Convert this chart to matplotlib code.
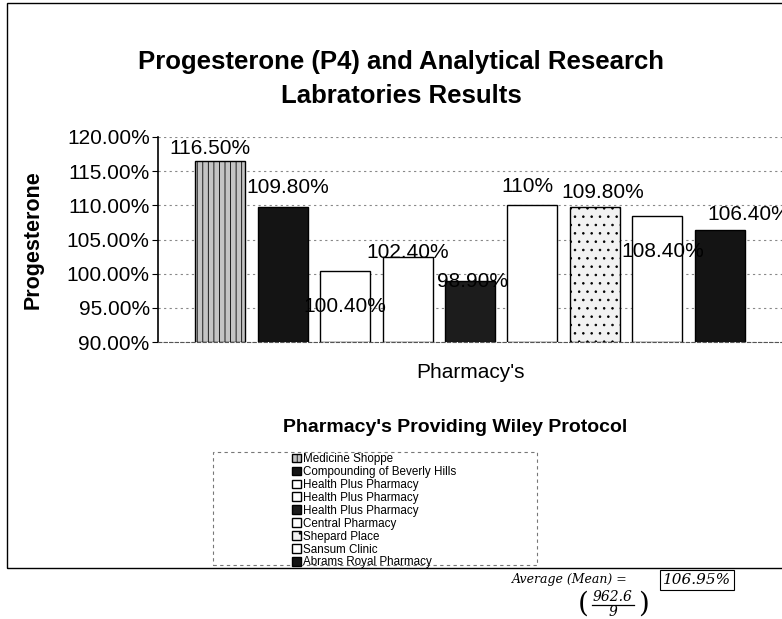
import matplotlib
matplotlib.use('Agg')
import matplotlib.pyplot as plt
from matplotlib.patches import Rectangle
from matplotlib.ticker import FuncFormatter

# Werte aus dem Diagramm
pharmacies = ['Medicine Shoppe', 'Compounding of Beverly Hills', 'Health Plus Pharmacy',
              'Health Plus Pharmacy', 'Health Plus Pharmacy', 'Central Pharmacy',
              'Shepard Place', 'Sansum Clinic', 'Abrams Royal Pharmacy']
results = [116.5, 109.8, 100.4, 102.4, 98.9, 110.0, 109.8, 108.4, 106.4]
value_labels = ['116.50%', '109.80%', '100.40%', '102.40%', '98.90%',
                '110%', '109.80%', '108.40%', '106.40%']
y_ticks = [90, 95, 100, 105, 110, 115, 120]

fills = ['#c4c4c4', '#141414', 'white', 'white', '#1c1c1c', 'white', '#f2f2f2', 'white', '#141414']
hatches = ['|||', None, None, None, None, None, '..', None, None]
# Versatz der Beschriftungen (px) relativ zur Balkenoberkante
offsets = [(-10, 12), (5, 19), (0, -36), (0, 5), (3, 0), (-5, 19), (8, 14), (6, -35), (29, 15)]

plt.rcParams['font.family'] = ['Liberation Sans', 'DejaVu Sans']
plt.rcParams['hatch.color'] = '#666666'
plt.rcParams['hatch.linewidth'] = 0.6

W, H = 782, 619
fig = plt.figure(figsize=(W / 100, H / 100), dpi=100)
fig.patch.set_facecolor('white')

def fx(px):
    return px / W

def fy(py):
    return 1 - py / H

# äußerer Rahmen
fig.patches.append(Rectangle((fx(7), fy(568)), 1.2, fy(3) - fy(568), transform=fig.transFigure,
                             fill=False, edgecolor='black', linewidth=1.0))

ax = fig.add_axes([fx(158), fy(342), 1 - fx(158), fy(137) - fy(342)])
bars = []
for i, v in enumerate(results):
    b = ax.bar(i, v - 90, bottom=90, width=0.8, color=fills[i], edgecolor='black',
               linewidth=1.0, hatch=hatches[i], zorder=2)
    bars.append(b[0])

for i, v in enumerate(results):
    dx, dy = offsets[i]
    ax.annotate(value_labels[i], (i, v), xytext=(dx * 0.72, dy * 0.72), textcoords='offset points',
                ha='center', va='center', fontsize=15, zorder=3)

ax.set_xlim(-1, 9)
ax.set_ylim(90, 120)
ax.set_yticks(y_ticks)
ax.yaxis.set_major_formatter(FuncFormatter(lambda v, p: f'{v:.2f}%'))
ax.tick_params(axis='y', labelsize=15, length=4, pad=2)
ax.set_xticks([])
ax.yaxis.grid(True, color='#888888', linestyle=(0, (2, 3)), linewidth=0.8, zorder=0)
ax.set_axisbelow(True)
for s in ['top', 'right']:
    ax.spines[s].set_visible(False)
ax.spines['left'].set_linewidth(1.2)
ax.spines['bottom'].set_linestyle((0, (3, 2)))
ax.spines['bottom'].set_color('#555555')

fig.text(fx(33), fy(240), 'Progesterone', rotation=90, ha='center', va='center',
         fontsize=15.5, fontweight='bold')
fig.text(fx(471), fy(373), "Pharmacy's", ha='center', va='center', fontsize=15)

fig.text(fx(401), fy(62), 'Progesterone (P4) and Analytical Research', ha='center', va='center',
         fontsize=18.5, fontweight='bold')
fig.text(fx(401), fy(96), 'Labratories Results', ha='center', va='center',
         fontsize=18.5, fontweight='bold')

# Legende
fig.text(fx(455), fy(427), "Pharmacy's Providing Wiley Protocol", ha='center', va='center',
         fontsize=14, fontweight='bold')
fig.patches.append(Rectangle((fx(213), fy(565)), fx(537) - fx(213), fy(452) - fy(565),
                             transform=fig.transFigure, fill=False, edgecolor='#777777',
                             linewidth=0.8, linestyle=(0, (3, 3))))
leg = fig.legend(bars, pharmacies, loc='upper left', bbox_to_anchor=(fx(292), fy(453)),
                 frameon=False, fontsize=8.4, handlelength=0.75, handleheight=0.75,
                 handletextpad=0.2, labelspacing=0.08, borderpad=0, borderaxespad=0)

# handschriftliche Notiz
fig.text(fx(512), fy(580), 'Average (Mean) =', ha='left', va='center', fontsize=9,
         fontstyle='italic', family='DejaVu Serif')
fig.text(fx(697), fy(580), '106.95%', ha='center', va='center', fontsize=11,
         fontstyle='italic', family='DejaVu Serif',
         bbox=dict(boxstyle='square,pad=0.2', fc='white', ec='black', lw=0.8))
fig.text(fx(612), fy(597), '962.6', ha='center', va='center', fontsize=10,
         fontstyle='italic', family='DejaVu Serif')
fig.add_artist(plt.Line2D([fx(592), fx(634)], [fy(605), fy(605)], transform=fig.transFigure,
                          color='black', linewidth=0.9))
fig.text(fx(613), fy(612), '9', ha='center', va='center', fontsize=10,
         fontstyle='italic', family='DejaVu Serif')
fig.text(fx(583), fy(604), '(', ha='center', va='center', fontsize=20, family='DejaVu Serif')
fig.text(fx(644), fy(604), ')', ha='center', va='center', fontsize=20, family='DejaVu Serif')

fig.savefig('out.png', dpi=100)
